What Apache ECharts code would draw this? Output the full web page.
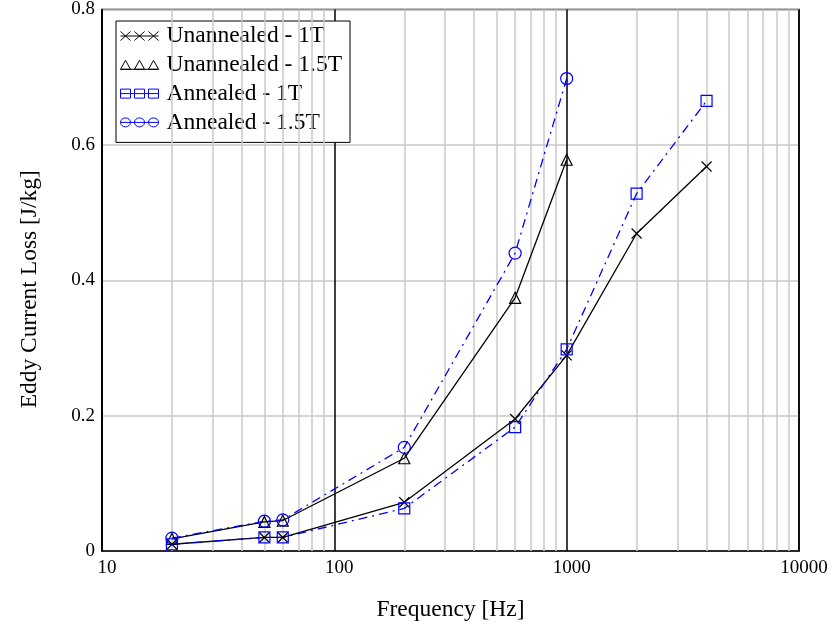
<!DOCTYPE html>
<html><head><meta charset="utf-8">
<script src="https://cdn.jsdelivr.net/npm/echarts@6/dist/echarts.min.js"></script>
<style>html,body{margin:0;padding:0;background:#fff}#c{width:833px;height:633px}</style>
</head><body><div id="c"></div>
<script>
// Data
const seriesNames = ['Unannealed - 1T', 'Unannealed - 1.5T', 'Annealed - 1T', 'Annealed - 1.5T'];
const unannealed1T = [[20,0.010],[50,0.020],[60,0.020],[200,0.072],[600,0.195],[1000,0.289],[2000,0.469],[4000,0.568]];
const unannealed15T = [[20,0.018],[50,0.043],[60,0.045],[200,0.137],[600,0.374],[1000,0.578]];
const annealed1T = [[20,0.010],[50,0.020],[60,0.020],[200,0.063],[600,0.183],[1000,0.298],[2000,0.528],[4000,0.665]];
const annealed15T = [[20,0.019],[50,0.044],[60,0.046],[200,0.153],[600,0.440],[1000,0.698]];
const minorTicks = [20,30,40,50,60,70,80,90,200,300,400,500,600,700,800,900,2000,3000,4000,5000,6000,7000,8000,9000];
const yTicks = [0, 0.2, 0.4, 0.6, 0.8];

const FONT = '"Liberation Serif", "Times New Roman", serif';
const BLUE = '#0000ff';
const crossPath = 'path://M0,0L10,10M10,0L0,10';
const legIcons = [
  'path://M0,0L10,9M10,0L0,9M14,0L24,9M24,0L14,9M28,0L38,9M38,0L28,9M0,4.5L38,4.5',
  'path://M5,0L10,9L0,9ZM19,0L24,9L14,9ZM33,0L38,9L28,9ZM0,9L38,9',
  'path://M0,0L10,0L10,9L0,9ZM14,0L24,0L24,9L14,9ZM28,0L38,0L38,9L28,9ZM0,4.5L38,4.5',
  'path://M0,4.5a5,4.5 0 1,0 10,0a5,4.5 0 1,0 -10,0M14,4.5a5,4.5 0 1,0 10,0a5,4.5 0 1,0 -10,0M28,4.5a5,4.5 0 1,0 10,0a5,4.5 0 1,0 -10,0M0,4.5L38,4.5'
];
const colors = ['#000','#000',BLUE,BLUE];

function mk(name, data, symbol, color, dashed, size) {
  return {
    name, type: 'line', data, symbol, symbolSize: size, z: 5,
    showSymbol: true,
    itemStyle: { color: 'none', borderColor: color, borderWidth: 1.2 },
    lineStyle: { color: color, width: 1.3, type: dashed ? [9,5,2,5] : 'solid' },
    emphasis: { disabled: true }
  };
}

const chart = echarts.init(document.getElementById('c'));
chart.setOption({
  animation: false,
  backgroundColor: '#fff',
  grid: { left: 102, right: 34, top: 7, bottom: 82, show: true, borderColor: '#000', borderWidth: 1.5, backgroundColor: '#fff' },
  legend: {
    orient: 'vertical', left: 116, top: 21,
    backgroundColor: '#fff', borderColor: '#000', borderWidth: 1,
    padding: [3, 8, 8, 2], itemGap: 4.8, itemWidth: 38, itemHeight: 10,
    textStyle: { fontFamily: FONT, fontSize: 23.5, color: '#000', padding: [0, 0, 0, 3] },
    data: seriesNames.map((n, i) => ({ name: n, icon: legIcons[i], itemStyle: { color: 'none', borderColor: colors[i], borderWidth: 1 } }))
  },
  xAxis: {
    type: 'log', logBase: 10, min: 10, max: 10000,
    name: 'Frequency [Hz]', nameLocation: 'middle', nameGap: 47,
    nameTextStyle: { fontFamily: FONT, fontSize: 23.5, color: '#000' },
    axisLine: { show: true, lineStyle: { color: '#000', width: 1.5 } },
    axisTick: { show: false },
    axisLabel: { fontFamily: FONT, fontSize: 19, color: '#000', margin: 8, padding: [0, 0, 0, 10],
      formatter: v => String(Math.round(v)) },
    splitLine: { show: true, lineStyle: { color: '#000', width: 1.5 } }
  },
  yAxis: {
    type: 'value', min: 0, max: 0.8, interval: 0.2,
    name: 'Eddy Current Loss [J/kg]', nameLocation: 'middle', nameGap: 60, nameRotate: 90,
    nameTextStyle: { fontFamily: FONT, fontSize: 23.5, color: '#000', padding: [0, 18, 0, 0] },
    axisLine: { show: true, lineStyle: { color: '#000', width: 1.5 } },
    axisTick: { show: false },
    axisLabel: { fontFamily: FONT, fontSize: 19, color: '#000', margin: 7, padding: [6, 0, 0, 0],
      formatter: v => (v === 0 ? '0' : v.toFixed(1)) },
    splitLine: { show: true, lineStyle: { color: '#c8c8c8', width: 1.5 } }
  },
  series: [
    { name: 'minor', type: 'line', data: [], z: 1, silent: true,
      markLine: { silent: true, symbol: 'none', animation: false, label: { show: false },
        lineStyle: { color: '#c8c8c8', width: 1.5, type: 'solid' },
        data: minorTicks.map(v => ({ xAxis: v })) } },
    mk(seriesNames[0], unannealed1T, crossPath, '#000', false, 10),
    mk(seriesNames[1], unannealed15T, 'triangle', '#000', false, 11),
    mk(seriesNames[2], annealed1T, 'rect', BLUE, true, 11),
    mk(seriesNames[3], annealed15T, 'circle', BLUE, true, 12)
  ]
});
</script></body></html>
